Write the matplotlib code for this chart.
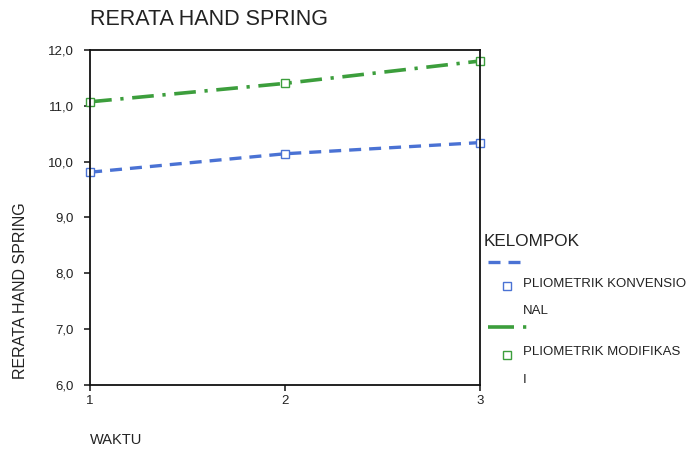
import matplotlib
matplotlib.use("Agg")
import matplotlib.pyplot as plt
from matplotlib.lines import Line2D
from matplotlib.ticker import FuncFormatter

# ---- data ----
waktu = [1, 2, 3]
konvensional = [9.81, 10.14, 10.34]
modifikasi = [11.07, 11.40, 11.80]
y_ticks = [6, 7, 8, 9, 10, 11, 12]

BLUE = "#4a72d4"
GREEN = "#3c9e3c"
TEXT = "#222222"
BLUE_DASH = (3.6, 2.4)
GREEN_DASH = (6.0, 2.4, 0.9, 2.4)

plt.rcParams["font.family"] = ["Liberation Sans", "DejaVu Sans"]

fig = plt.figure(figsize=(6.88, 4.53), dpi=100, facecolor="white")
ax = fig.add_axes([0.131, 0.150, 0.567, 0.740])

ax.plot(waktu, konvensional, color=BLUE, lw=2.4, dashes=BLUE_DASH,
        marker="s", ms=6, mfc="white", mec=BLUE, mew=1.0, clip_on=False)
ax.plot(waktu, modifikasi, color=GREEN, lw=2.6, dashes=GREEN_DASH,
        marker="s", ms=6, mfc="white", mec=GREEN, mew=1.0, clip_on=False)

ax.set_xlim(1, 3)
ax.set_ylim(6, 12)
ax.set_xticks(waktu)
ax.set_yticks(y_ticks)
ax.yaxis.set_major_formatter(FuncFormatter(lambda v, p: f"{v:.1f}".replace(".", ",")))
ax.tick_params(axis="both", labelsize=9.5, colors=TEXT, length=4, width=1.2, direction="out")
ax.tick_params(axis="y", pad=8)
for s in ax.spines.values():
    s.set_linewidth(1.3)
    s.set_color("#111111")

fig.text(0.131, 0.956, "RERATA HAND SPRING", fontsize=15.5, color=TEXT, va="center")
fig.text(0.030, 1 - 291 / 453, "RERATA HAND SPRING", fontsize=11.5, color=TEXT,
         rotation=90, va="center", ha="center")
fig.text(0.131, 0.028, "WAKTU", fontsize=10.5, color=TEXT, va="center")

# ---- legend drawn by hand ----
def fy(py):
    return 1 - py / 453

def fx(px):
    return px / 688

fig.text(fx(484), fy(241), "KELOMPOK", fontsize=12.3, color=TEXT, va="center")
fig.add_artist(Line2D([fx(488), fx(520)], [fy(262), fy(262)], color=BLUE, lw=2.4,
                      dashes=BLUE_DASH, transform=fig.transFigure))
fig.add_artist(Line2D([fx(507)], [fy(286)], marker="s", ms=6, mfc="white",
                      mec=BLUE, mew=1.0, transform=fig.transFigure))
fig.text(fx(523), fy(284), "PLIOMETRIK KONVENSIO", fontsize=9.5, color=TEXT, va="center")
fig.text(fx(523), fy(311), "NAL", fontsize=9.5, color=TEXT, va="center")
fig.add_artist(Line2D([fx(488), fx(529)], [fy(327), fy(327)], color=GREEN, lw=2.6,
                      dashes=(7.2, 2.5, 0.9, 2.5), transform=fig.transFigure))
fig.add_artist(Line2D([fx(507)], [fy(355)], marker="s", ms=6, mfc="white",
                      mec=GREEN, mew=1.0, transform=fig.transFigure))
fig.text(fx(523), fy(352), "PLIOMETRIK MODIFIKAS", fontsize=9.5, color=TEXT, va="center")
fig.text(fx(523), fy(380), "I", fontsize=9.5, color=TEXT, va="center")

fig.savefig("out.png", dpi=100, facecolor="white")
